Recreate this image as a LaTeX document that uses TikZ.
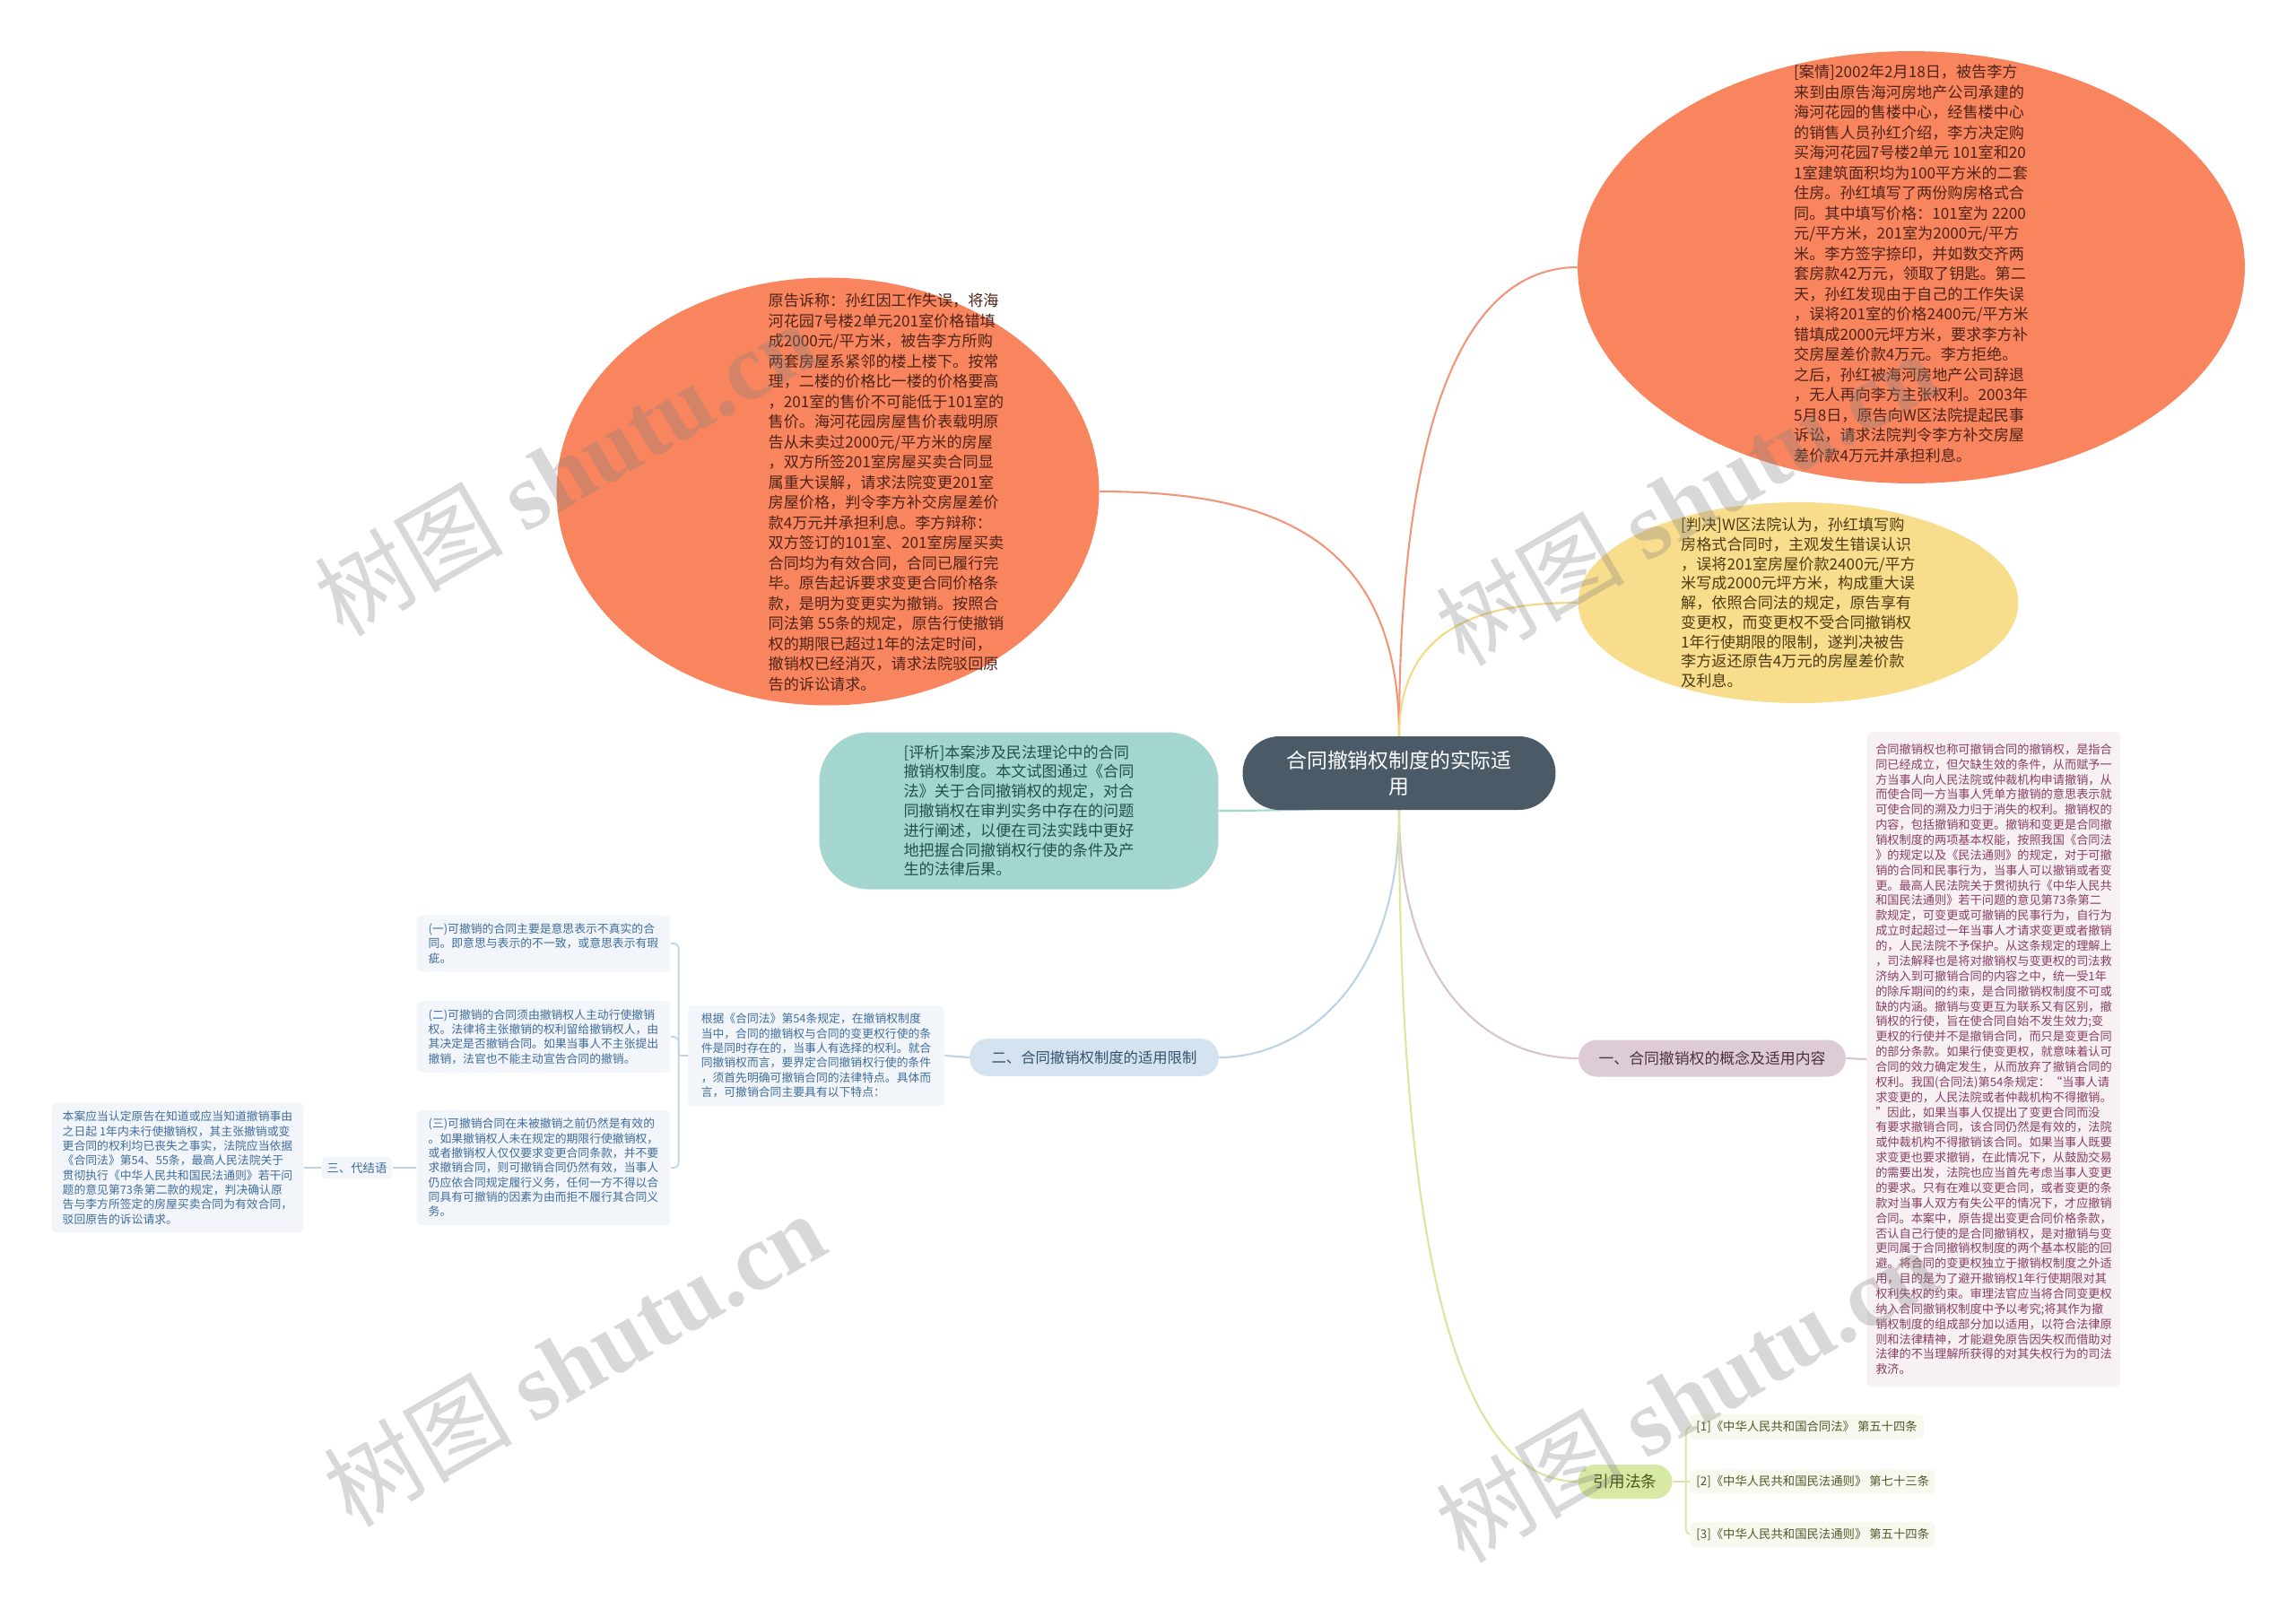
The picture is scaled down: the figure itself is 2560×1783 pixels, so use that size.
\documentclass[tikz,border=0pt]{standalone}
\usepackage{fontspec}
\setmainfont{Noto Sans CJK SC}
\newfontfamily\wmfont{Liberation Serif}
\usetikzlibrary{shapes.geometric}

\definecolor{hubfill}{HTML}{4A5A67}
\definecolor{coral}{HTML}{F8855E}
\definecolor{coraltxt}{HTML}{4F2318}
\definecolor{coralline}{HTML}{F0967A}
\definecolor{sand}{HTML}{F7DD8C}
\definecolor{sandtxt}{HTML}{4D3C12}
\definecolor{sandline}{HTML}{F2DA84}
\definecolor{aqua}{HTML}{A3D6CF}
\definecolor{aquatxt}{HTML}{24504B}
\definecolor{mauve}{HTML}{DDCBD5}
\definecolor{mauvetxt}{HTML}{4E3040}
\definecolor{mauveline}{HTML}{D9C2CE}
\definecolor{blush}{HTML}{F8F1F4}
\definecolor{plum}{HTML}{8A3E66}
\definecolor{sky}{HTML}{D4E3EF}
\definecolor{skytxt}{HTML}{34536F}
\definecolor{skyline}{HTML}{BCD4E4}
\definecolor{mist}{HTML}{F2F6FA}
\definecolor{steel}{HTML}{3F6C9C}
\definecolor{lime}{HTML}{D7E9A2}
\definecolor{limetxt}{HTML}{465818}
\definecolor{limeline}{HTML}{D6E79E}
\definecolor{ivory}{HTML}{F8F9EE}
\definecolor{olive}{HTML}{4F5A2C}

\pgfdeclarelayer{paper}
\pgfdeclarelayer{links}
\pgfsetlayers{paper,links,main}

\begin{document}
\begin{tikzpicture}[x=0.02cm,y=-0.02cm,line cap=round,
  blob/.style={ellipse, draw=none, inner sep=0pt},
  bigtxt/.style={align=left, inner sep=0pt, font=\fontsize{9.75}{12.8}\selectfont},
  small/.style={fill=mist, rounded corners=3pt, text=steel, align=left, inner sep=0.18cm,
                font=\fontsize{7.3}{9.3}\selectfont},
  refbox/.style={fill=ivory, rounded corners=3pt, text=olive, anchor=west, inner sep=0.14cm,
                 font=\fontsize{7.6}{9}\selectfont},
  link/.style={line width=1.2pt},
  brk/.style={line width=1pt, draw=skyline},
  wm/.style={text=gray, opacity=0.3, rotate=30, font=\fontsize{60}{60}\selectfont}]

\begin{pgfonlayer}{paper}
  \fill[white] (0,0) rectangle (2560,1783);
\end{pgfonlayer}
\useasboundingbox (0,0) rectangle (2560,1783);

   % centre
  \node[fill=hubfill, rounded corners=0.82cm, minimum width=6.98cm, minimum height=1.64cm,
        text=white, align=center, font=\fontsize{13}{16.6}\selectfont] (hub) at (1560,862)
        {合同撤销权制度的实际适\\用};

   %案情 / 原告诉称 / 判决
  \node[blob, fill=coral, minimum width=14.88cm, minimum height=9.64cm] (caseE) at (2131,298) {};
  \node[bigtxt, text=coraltxt] (caseT) at (2131,294) {%
[案情]2002年2月18日，被告李方\\
来到由原告海河房地产公司承建的\\
海河花园的售楼中心，经售楼中心\\
的销售人员孙红介绍，李方决定购\\
买海河花园7号楼2单元 101室和20\\
1室建筑面积均为100平方米的二套\\
住房。孙红填写了两份购房格式合\\
同。其中填写价格：101室为 2200\\
元/平方米，201室为2000元/平方\\
米。李方签字捺印，并如数交齐两\\
套房款42万元，领取了钥匙。第二\\
天，孙红发现由于自己的工作失误\\
，误将201室的价格2400元/平方米\\
错填成2000元坪方米，要求李方补\\
交房屋差价款4万元。李方拒绝。\\
之后，孙红被海河房地产公司辞退\\
，无人再向李方主张权利。2003年\\
5月8日，原告向W区法院提起民事\\
诉讼，请求法院判令李方补交房屋\\
差价款4万元并承担利息。};

  \node[blob, fill=coral, minimum width=12.1cm, minimum height=9.54cm] (suitE) at (923,548) {};
  \node[bigtxt, text=coraltxt] (suitT) at (988,549) {%
原告诉称：孙红因工作失误，将海\\
河花园7号楼2单元201室价格错填\\
成2000元/平方米，被告李方所购\\
两套房屋系紧邻的楼上楼下。按常\\
理，二楼的价格比一楼的价格要高\\
，201室的售价不可能低于101室的\\
售价。海河花园房屋售价表载明原\\
告从未卖过2000元/平方米的房屋\\
，双方所签201室房屋买卖合同显\\
属重大误解，请求法院变更201室\\
房屋价格，判令李方补交房屋差价\\
款4万元并承担利息。李方辩称：\\
双方签订的101室、201室房屋买卖\\
合同均为有效合同，合同已履行完\\
毕。原告起诉要求变更合同价格条\\
款，是明为变更实为撤销。按照合\\
同法第 55条的规定，原告行使撤销\\
权的期限已超过1年的法定时间，\\
撤销权已经消灭，请求法院驳回原\\
告的诉讼请求。};

  \node[blob, fill=sand, minimum width=9.82cm, minimum height=4.48cm] (rulE) at (2005,672) {};
  \node[bigtxt, text=sandtxt, font=\fontsize{9.75}{12.4}\selectfont] (rulT) at (2005,672) {%
[判决]W区法院认为，孙红填写购\\
房格式合同时，主观发生错误认识\\
，误将201室房屋价款2400元/平方\\
米写成2000元坪方米，构成重大误\\
解，依照合同法的规定，原告享有\\
变更权，而变更权不受合同撤销权\\
1年行使期限的限制，遂判决被告\\
李方返还原告4万元的房屋差价款\\
及利息。};

   % 评析
  \node[fill=aqua, rounded corners=1.1cm, minimum width=8.9cm, minimum height=3.5cm,
        text=aquatxt, align=left, font=\fontsize{9.75}{12.4}\selectfont] (evalB) at (1136,904) {%
[评析]本案涉及民法理论中的合同\\
撤销权制度。本文试图通过《合同\\
法》关于合同撤销权的规定，对合\\
同撤销权在审判实务中存在的问题\\
进行阐述，以便在司法实践中更好\\
地把握合同撤销权行使的条件及产\\
生的法律后果。};

   % 一、
  \node[fill=mauve, rounded corners=0.41cm, minimum width=5.96cm, minimum height=0.82cm,
        text=mauvetxt, font=\fontsize{9.6}{11}\selectfont] (one) at (1909,1180)
        {一、合同撤销权的概念及适用内容};
  \node[fill=blush, rounded corners=3pt, text=plum, align=left, inner sep=0pt,
        minimum width=5.66cm, minimum height=14.6cm,
        font=\fontsize{7.5}{9.6}\selectfont] (concept) at (2223,1181) {%
合同撤销权也称可撤销合同的撤销权，是指合\\
同已经成立，但欠缺生效的条件，从而赋予一\\
方当事人向人民法院或仲裁机构申请撤销，从\\
而使合同一方当事人凭单方撤销的意思表示就\\
可使合同的溯及力归于消失的权利。撤销权的\\
内容，包括撤销和变更。撤销和变更是合同撤\\
销权制度的两项基本权能，按照我国《合同法\\
》的规定以及《民法通则》的规定，对于可撤\\
销的合同和民事行为，当事人可以撤销或者变\\
更。最高人民法院关于贯彻执行《中华人民共\\
和国民法通则》若干问题的意见第73条第二\\
款规定，可变更或可撤销的民事行为，自行为\\
成立时起超过一年当事人才请求变更或者撤销\\
的，人民法院不予保护。从这条规定的理解上\\
，司法解释也是将对撤销权与变更权的司法救\\
济纳入到可撤销合同的内容之中，统一受1年\\
的除斥期间的约束，是合同撤销权制度不可或\\
缺的内涵。撤销与变更互为联系又有区别，撤\\
销权的行使，旨在使合同自始不发生效力;变\\
更权的行使并不是撤销合同，而只是变更合同\\
的部分条款。如果行使变更权，就意味着认可\\
合同的效力确定发生，从而放弃了撤销合同的\\
权利。我国(合同法)第54条规定：“当事人请\\
求变更的，人民法院或者仲裁机构不得撤销。\\
”因此，如果当事人仅提出了变更合同而没\\
有要求撤销合同，该合同仍然是有效的，法院\\
或仲裁机构不得撤销该合同。如果当事人既要\\
求变更也要求撤销，在此情况下，从鼓励交易\\
的需要出发，法院也应当首先考虑当事人变更\\
的要求。只有在难以变更合同，或者变更的条\\
款对当事人双方有失公平的情况下，才应撤销\\
合同。本案中，原告提出变更合同价格条款，\\
否认自己行使的是合同撤销权，是对撤销与变\\
更同属于合同撤销权制度的两个基本权能的回\\
避。将合同的变更权独立于撤销权制度之外适\\
用，目的是为了避开撤销权1年行使期限对其\\
权利失权的约束。审理法官应当将合同变更权\\
纳入合同撤销权制度中予以考究;将其作为撤\\
销权制度的组成部分加以适用，以符合法律原\\
则和法律精神，才能避免原告因失权而借助对\\
法律的不当理解所获得的对其失权行为的司法\\
救济。};

   % 二、
  \node[fill=sky, rounded corners=0.42cm, minimum width=5.56cm, minimum height=0.84cm,
        text=skytxt, font=\fontsize{9.3}{11}\selectfont] (two) at (1220,1179)
        {二、合同撤销权制度的适用限制};
  \node[small, minimum width=5.72cm] (limit) at (910,1177) {%
根据《合同法》第54条规定，在撤销权制度\\
当中，合同的撤销权与合同的变更权行使的条\\
件是同时存在的，当事人有选择的权利。就合\\
同撤销权而言，要界定合同撤销权行使的条件\\
，须首先明确可撤销合同的法律特点。具体而\\
言，可撤销合同主要具有以下特点：};
  \node[small, minimum width=5.66cm] (itemA) at (606,1052) {%
(一)可撤销的合同主要是意思表示不真实的合\\
同。即意思与表示的不一致，或意思表示有瑕\\
疵。};
  \node[small, minimum width=5.66cm] (itemB) at (606,1156) {%
(二)可撤销的合同须由撤销权人主动行使撤销\\
权。法律将主张撤销的权利留给撤销权人，由\\
其决定是否撤销合同。如果当事人不主张提出\\
撤销，法官也不能主动宣告合同的撤销。};
  \node[small, minimum width=5.66cm] (itemC) at (606,1302) {%
(三)可撤销合同在未被撤销之前仍然是有效的\\
。如果撤销权人未在规定的期限行使撤销权，\\
或者撤销权人仅仅要求变更合同条款，并不要\\
求撤销合同，则可撤销合同仍然有效，当事人\\
仍应依合同规定履行义务，任何一方不得以合\\
同具有可撤销的因素为由而拒不履行其合同义\\
务。};
  \node[small, inner sep=0.12cm, font=\fontsize{7.6}{9}\selectfont] (close) at (398,1302) {三、代结语};
  \node[small, minimum width=5.62cm] (closeT) at (198,1302) {%
本案应当认定原告在知道或应当知道撤销事由\\
之日起 1年内未行使撤销权，其主张撤销或变\\
更合同的权利均已丧失之事实，法院应当依据\\
《合同法》第54、55条，最高人民法院关于\\
贯彻执行《中华人民共和国民法通则》若干问\\
题的意见第73条第二款的规定，判决确认原\\
告与李方所签定的房屋买卖合同为有效合同，\\
驳回原告的诉讼请求。};

   % 引用法条
  \node[fill=lime, rounded corners=0.38cm, minimum width=2.1cm, minimum height=0.76cm,
        text=limetxt, font=\fontsize{10}{11}\selectfont] (refs) at (1812,1652) {引用法条};
  \node[refbox] (ref1) at (1884,1591) {[1]《中华人民共和国合同法》 第五十四条};
  \node[refbox] (ref2) at (1884,1652) {[2]《中华人民共和国民法通则》 第七十三条};
  \node[refbox] (ref3) at (1884,1711) {[3]《中华人民共和国民法通则》 第五十四条};

   % liaisons
\begin{pgfonlayer}{links}
  \draw[link, coralline] (hub.north) .. controls (1560,450) and (1640,298) .. (caseE.west);
  \draw[link, coralline] (hub.north) .. controls (1560,600) and (1420,548) .. (suitE.east);
  \draw[link, sandline] (hub.north) .. controls (1560,700) and (1650,672) .. (rulE.west);
  \draw[link, aqua] ([yshift=0.1cm]hub.south) .. controls (1480,902) and (1420,904) .. (evalB.east);
  \draw[link, skyline] (hub.south) .. controls (1560,1100) and (1450,1179) .. (two.east);
  \draw[link, mauveline] (hub.south) .. controls (1560,1100) and (1660,1180) .. (one.west);
  \draw[link, limeline] (hub.south) .. controls (1560,1450) and (1640,1652) .. (refs.west);

  \draw[link, mauveline] (one.east) -- (concept.west);
  \draw[link, skyline] (two.west) -- (limit.east);

  \coordinate (jLim) at ([xshift=-0.2cm]limit.west);
  \draw[brk] (limit.west) -- (jLim);
  \draw[brk, rounded corners=0.12cm] (jLim) |- (itemA.east);
  \draw[brk, rounded corners=0.12cm] (jLim) |- (itemB.east);
  \draw[brk, rounded corners=0.12cm] (jLim) |- (itemC.east);
  \draw[brk] (itemC.west) -- (close.east);
  \draw[brk] (close.west) -- (closeT.east);

  \coordinate (jRef) at ([xshift=0.3cm]refs.east);
  \draw[link, limeline, line width=1pt] (refs.east) -- (jRef);
  \draw[limeline, line width=1pt, rounded corners=0.12cm] (jRef) |- (ref1.west);
  \draw[limeline, line width=1pt] (jRef) -- (ref2.west);
  \draw[limeline, line width=1pt, rounded corners=0.12cm] (jRef) |- (ref3.west);
\end{pgfonlayer}

   % filigrane
  \node[wm] (wmA) at (630,522) {树图 {\wmfont\bfseries shutu.cn}};
  \node[wm] (wmB) at (1880,555) {树图 {\wmfont\bfseries shutu.cn}};
  \node[wm] (wmC) at (640,1515) {树图 {\wmfont\bfseries shutu.cn}};
  \node[wm] (wmD) at (1880,1555) {树图 {\wmfont\bfseries shutu.cn}};

\end{tikzpicture}
\end{document}
